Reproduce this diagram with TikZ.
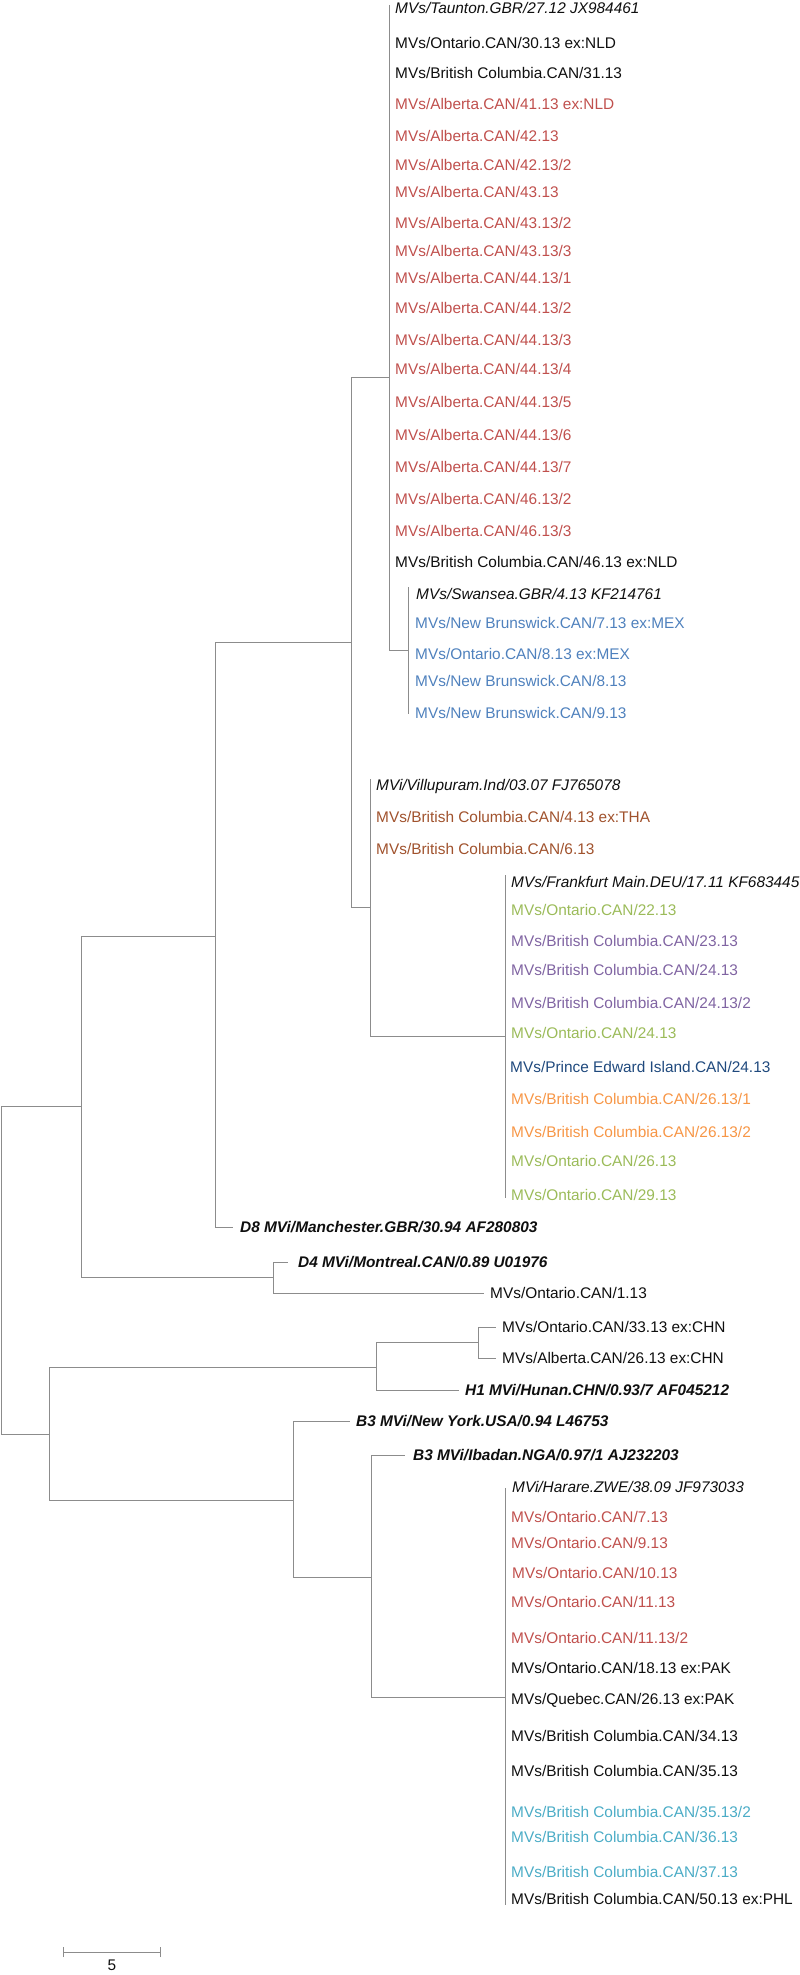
\documentclass[tikz,border=0pt]{standalone}
\usepackage{fontspec}
\setmainfont{Liberation Sans}
\definecolor{linegray}{RGB}{140,140,140}
\definecolor{cred}{RGB}{192,80,77}
\definecolor{cblue}{RGB}{79,129,189}
\definecolor{cbrown}{RGB}{160,82,45}
\definecolor{cgreen}{RGB}{155,187,89}
\definecolor{cpurple}{RGB}{128,100,162}
\definecolor{cnavy}{RGB}{31,73,125}
\definecolor{corange}{RGB}{247,150,70}
\definecolor{ccyan}{RGB}{75,172,198}
\definecolor{ctext}{RGB}{15,15,15}
\begin{document}
\begin{tikzpicture}[x=1pt,y=-1pt,
  lab/.style={anchor=west,inner sep=0pt,text=ctext,font=\fontsize{15.4}{16}\selectfont},
  refs/.style={lab,font=\fontsize{15.4}{16}\selectfont\itshape},
  geno/.style={lab,font=\fontsize{15.4}{16}\selectfont\bfseries\itshape},
  br/.style={draw=linegray,line width=1pt},
  tred/.style={text=cred},tblue/.style={text=cblue},tbrown/.style={text=cbrown},
  tgreen/.style={text=cgreen},tpurple/.style={text=cpurple},tnavy/.style={text=cnavy},
  torange/.style={text=corange},tcyan/.style={text=ccyan}]
\useasboundingbox (0,0) rectangle (800,1975);
% internal node coordinates
\coordinate (root) at (1,1106);
\coordinate (rootb) at (1,1434);
\coordinate (dn) at (81,1106);
\coordinate (xn) at (215,936);
\coordinate (n351) at (351,642);
\coordinate (t389) at (389,377);
\coordinate (t389top) at (389,5);
\coordinate (t389bot) at (389,650);
\coordinate (s408) at (408,650);
\coordinate (s408top) at (408,587);
\coordinate (s408bot) at (408,714);
\coordinate (v370) at (370,907);
\coordinate (v370top) at (370,779);
\coordinate (f505) at (505,1036);
\coordinate (f505top) at (505,875);
\coordinate (f505bot) at (505,1198);
\coordinate (d4n) at (273,1277);
\coordinate (bh) at (49,1434);
\coordinate (h376) at (376,1367);
\coordinate (c478) at (478,1342);
\coordinate (b293) at (293,1500);
\coordinate (b371) at (371,1577);
\coordinate (z505) at (505,1697);
\coordinate (z505top) at (505,1488);
\coordinate (z505bot) at (505,1905);

% Taunton clade
\node[refs] (l1) at (395,8) {MVs/Taunton.GBR/27.12 JX984461};
\node[lab] (l2) at (395,43) {MVs/Ontario.CAN/30.13 ex:NLD};
\node[lab] (l3) at (395,73) {MVs/British Columbia.CAN/31.13};
\node[lab,tred] (l4) at (395,104) {MVs/Alberta.CAN/41.13 ex:NLD};
\node[lab,tred] (l5) at (395,136) {MVs/Alberta.CAN/42.13};
\node[lab,tred] (l6) at (395,165) {MVs/Alberta.CAN/42.13/2};
\node[lab,tred] (l7) at (395,192) {MVs/Alberta.CAN/43.13};
\node[lab,tred] (l8) at (395,223) {MVs/Alberta.CAN/43.13/2};
\node[lab,tred] (l9) at (395,251) {MVs/Alberta.CAN/43.13/3};
\node[lab,tred] (l10) at (395,278) {MVs/Alberta.CAN/44.13/1};
\node[lab,tred] (l11) at (395,308) {MVs/Alberta.CAN/44.13/2};
\node[lab,tred] (l12) at (395,340) {MVs/Alberta.CAN/44.13/3};
\node[lab,tred] (l13) at (395,369) {MVs/Alberta.CAN/44.13/4};
\node[lab,tred] (l14) at (395,402) {MVs/Alberta.CAN/44.13/5};
\node[lab,tred] (l15) at (395,435) {MVs/Alberta.CAN/44.13/6};
\node[lab,tred] (l16) at (395,467) {MVs/Alberta.CAN/44.13/7};
\node[lab,tred] (l17) at (395,499) {MVs/Alberta.CAN/46.13/2};
\node[lab,tred] (l18) at (395,531) {MVs/Alberta.CAN/46.13/3};
\node[lab] (l19) at (395,562) {MVs/British Columbia.CAN/46.13 ex:NLD};
% Swansea subclade
\node[refs] (l20) at (416,594) {MVs/Swansea.GBR/4.13 KF214761};
\node[lab,tblue] (l21) at (415,623) {MVs/New Brunswick.CAN/7.13 ex:MEX};
\node[lab,tblue] (l22) at (415,654) {MVs/Ontario.CAN/8.13 ex:MEX};
\node[lab,tblue] (l23) at (415,681) {MVs/New Brunswick.CAN/8.13};
\node[lab,tblue] (l24) at (415,713) {MVs/New Brunswick.CAN/9.13};
% Villupuram clade
\node[refs] (l25) at (376,787) {MVi/Villupuram.Ind/03.07 FJ765078};
\node[lab,tbrown] (l26) at (376,817) {MVs/British Columbia.CAN/4.13 ex:THA};
\node[lab,tbrown] (l27) at (376,849) {MVs/British Columbia.CAN/6.13};
% Frankfurt clade
\node[refs] (l28) at (511,882) {MVs/Frankfurt Main.DEU/17.11 KF683445};
\node[lab,tgreen] (l29) at (511,910) {MVs/Ontario.CAN/22.13};
\node[lab,tpurple] (l30) at (511,941) {MVs/British Columbia.CAN/23.13};
\node[lab,tpurple] (l31) at (511,970) {MVs/British Columbia.CAN/24.13};
\node[lab,tpurple] (l32) at (511,1003) {MVs/British Columbia.CAN/24.13/2};
\node[lab,tgreen] (l33) at (511,1033) {MVs/Ontario.CAN/24.13};
\node[lab,tnavy] (l34) at (510,1067) {MVs/Prince Edward Island.CAN/24.13};
\node[lab,torange] (l35) at (511,1099) {MVs/British Columbia.CAN/26.13/1};
\node[lab,torange] (l36) at (511,1132) {MVs/British Columbia.CAN/26.13/2};
\node[lab,tgreen] (l37) at (511,1161) {MVs/Ontario.CAN/26.13};
\node[lab,tgreen] (l38) at (511,1195) {MVs/Ontario.CAN/29.13};
% genotype references and others
\node[geno] (d8) at (240,1227) {D8 MVi/Manchester.GBR/30.94 AF280803};
\node[geno] (d4) at (298,1262) {D4 MVi/Montreal.CAN/0.89 U01976};
\node[lab] (o1) at (490,1293) {MVs/Ontario.CAN/1.13};
\node[lab] (o33) at (502,1327) {MVs/Ontario.CAN/33.13 ex:CHN};
\node[lab] (a26) at (502,1358) {MVs/Alberta.CAN/26.13 ex:CHN};
\node[geno] (h1) at (465,1390) {H1 MVi/Hunan.CHN/0.93/7 AF045212};
\node[geno] (b3ny) at (356,1421) {B3 MVi/New York.USA/0.94 L46753};
\node[geno] (b3ib) at (413,1455) {B3 MVi/Ibadan.NGA/0.97/1 AJ232203};
% Harare clade
\node[refs] (m1) at (512,1487) {MVi/Harare.ZWE/38.09 JF973033};
\node[lab,tred] (m2) at (511,1517) {MVs/Ontario.CAN/7.13};
\node[lab,tred] (m3) at (511,1543) {MVs/Ontario.CAN/9.13};
\node[lab,tred] (m4) at (512,1573) {MVs/Ontario.CAN/10.13};
\node[lab,tred] (m5) at (511,1602) {MVs/Ontario.CAN/11.13};
\node[lab,tred] (m6) at (511,1638) {MVs/Ontario.CAN/11.13/2};
\node[lab] (m7) at (511,1668) {MVs/Ontario.CAN/18.13 ex:PAK};
\node[lab] (m8) at (511,1700) {MVs/Quebec.CAN/26.13 ex:PAK};
\node[lab] (m9) at (511,1736) {MVs/British Columbia.CAN/34.13};
\node[lab] (m10) at (511,1771) {MVs/British Columbia.CAN/35.13};
\node[lab,tcyan] (m11) at (511,1812) {MVs/British Columbia.CAN/35.13/2};
\node[lab,tcyan] (m12) at (511,1837) {MVs/British Columbia.CAN/36.13};
\node[lab,tcyan] (m13) at (511,1872) {MVs/British Columbia.CAN/37.13};
\node[lab] (m14) at (511,1899) {MVs/British Columbia.CAN/50.13 ex:PHL};

% branches
\draw[br] (root) -- (rootb);
\draw[br] (root) -- (dn);
\draw[br] (rootb) -- (bh);
% D clade
\draw[br] (dn) |- (xn);
\draw[br] (dn) |- (d4n);
\draw[br] (xn) |- (n351);
\draw[br] (xn) |- ([xshift=-7pt]d8.west);
\draw[br] (n351) |- (t389);
\draw[br] (n351) |- (v370);
\draw[br] (t389top) -- (t389bot);
\draw[br] (t389bot) -- (s408);
\draw[br] (s408top) -- (s408bot);
\draw[br] (v370top) |- (f505);
\draw[br] (f505top) -- (f505bot);
\draw[br] (d4n) |- ([xshift=-10pt]d4.west);
\draw[br] (d4n) |- ([xshift=-6pt]o1.west);
% H clade
\draw[br] (bh) |- (h376);
\draw[br] (bh) |- (b293);
\draw[br] (h376) |- (c478);
\draw[br] (h376) |- ([xshift=-6pt]h1.west);
\draw[br] (c478) |- ([xshift=-6pt]o33.west);
\draw[br] (c478) |- ([xshift=-6pt]a26.west);
% B clade
\draw[br] (b293) |- ([xshift=-6pt]b3ny.west);
\draw[br] (b293) |- (b371);
\draw[br] (b371) |- ([xshift=-8pt]b3ib.west);
\draw[br] (b371) |- (z505);
\draw[br] (z505top) -- (z505bot);

% scale bar
\coordinate (sb1) at (63,1952);
\coordinate (sb2) at (160,1952);
\draw[br] (sb1) -- (sb2);
\draw[br] ([yshift=-5pt]sb1) -- ([yshift=5pt]sb1);
\draw[br] ([yshift=-5pt]sb2) -- ([yshift=5pt]sb2);
\node[lab,anchor=center] (sbl) at (112,1965) {5};
\end{tikzpicture}
\end{document}
